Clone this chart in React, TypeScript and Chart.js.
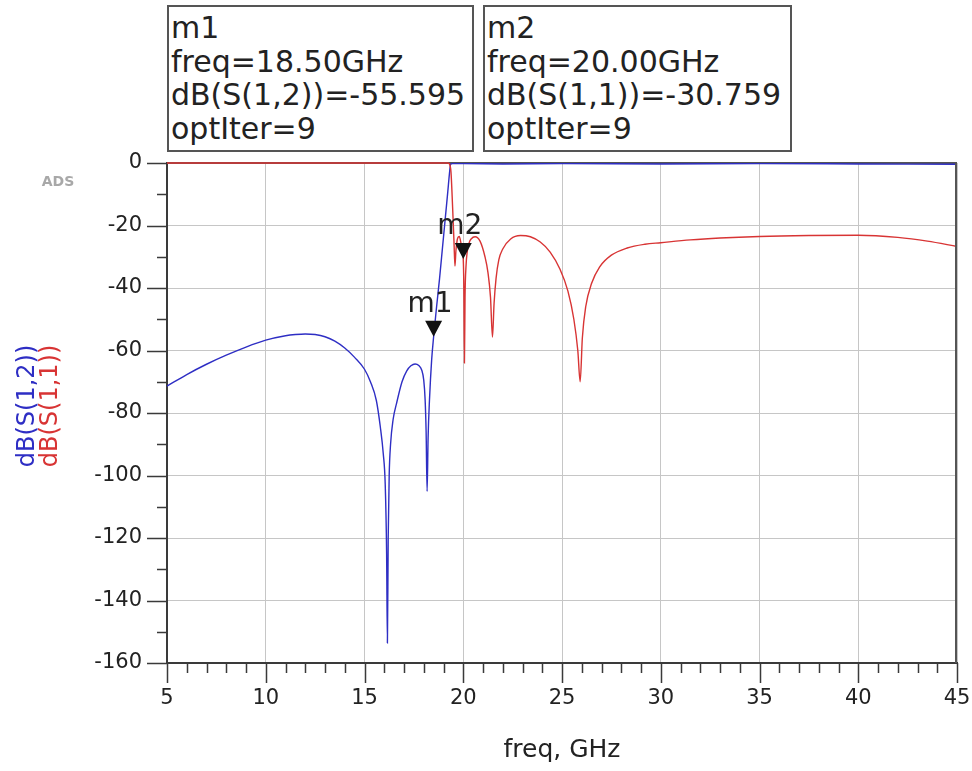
import React, { useEffect, useRef } from 'react';
import { Chart, registerables } from 'chart.js';

Chart.register(...registerables);

// ---- data ----
const S12_FREQ = [5, 6, 7, 8, 9, 10, 11, 11.5, 12, 12.5, 13, 13.5, 14, 14.5, 15, 15.3, 15.6, 15.8, 15.95, 16.05, 16.12, 16.16, 16.2, 16.25, 16.32, 16.45, 16.62, 16.9, 17.14, 17.35, 17.56, 17.75, 17.9, 18.0, 18.07, 18.12, 18.17, 18.22, 18.29, 18.4, 18.5, 18.65, 18.8, 18.95, 19.1, 19.22, 19.3, 19.36, 19.45, 20, 22, 25, 30, 35, 40, 45];
const S12_DB = [-71.4, -67.7, -64.4, -61.5, -58.9, -56.7, -55.3, -54.9, -54.7, -54.9, -55.6, -57, -59.2, -62.2, -66, -70, -76, -84.4, -93, -103, -125, -153.6, -120, -100, -90, -82, -77, -70, -66.5, -64.9, -64.3, -64.8, -66.3, -69.5, -75.8, -86, -105.1, -88, -75.8, -63, -55.6, -46, -37, -27, -17, -9, -3.5, -0.4, -0.2, -0.2, -0.3, -0.2, -0.3, -0.2, -0.3, -0.4];

const S11_FREQ = [5, 10, 15, 19.2, 19.3, 19.38, 19.46, 19.53, 19.58, 19.63, 19.72, 19.8, 19.88, 19.96, 20.0, 20.03, 20.06, 20.09, 20.14, 20.2, 20.3, 20.4, 20.6, 20.85, 21.1, 21.25, 21.38, 21.48, 21.56, 21.66, 21.8, 22.0, 22.4, 22.9, 23.4, 23.9, 24.4, 24.9, 25.3, 25.6, 25.8, 25.92, 26.03, 26.2, 26.5, 26.9, 27.5, 28.3, 29.2, 30, 31.5, 33, 35, 37.5, 40, 42, 43.5, 45];
const S11_DB = [0, 0, 0, 0, -0.3, -3, -14, -25, -33, -28, -24, -23.5, -25.5, -29, -30.759, -40, -64, -43, -33, -28.5, -25.5, -24.3, -23.6, -25, -30, -35, -43, -55.7, -45, -37, -31, -27.5, -24.3, -23.2, -23.6, -25.3, -28.5, -34, -41, -50, -60, -70, -56, -46, -38.5, -33.3, -29.5, -27.2, -26, -25.5, -24.6, -24, -23.5, -23.2, -23.1, -23.8, -25, -26.7];

const X_MIN = 5;
const X_MAX = 45;
const X_MAJOR = 5;
const X_MINOR = 1;
const Y_MIN = -160;
const Y_MAX = 0;
const Y_MAJOR = 20;
const Y_MINOR = 10;

const MARKER_NAMES = ['m1', 'm2'];
const MARKER_FREQ = [18.5, 20.0];
const MARKER_VALUE = [-55.595, -30.759];
const MARKER_TRACE = ['dB(S(1,2))', 'dB(S(1,1))'];
const MARKER_ITER = [9, 9];

const X_TITLE = 'freq, GHz';
const Y_TITLES = ['dB(S(1,2))', 'dB(S(1,1))'];

// ---- styles ----
const FONT = '"DejaVu Sans", "Liberation Sans", Arial, sans-serif';
const BLUE = '#2e2ec4';
const RED = '#d83434';
const TEXT = '#222';
const BOX_POS = [
  { left: 167, width: 307 },
  { left: 483, width: 309 },
];

const decor = {
  id: 'decor',
  beforeDatasetsDraw(chart: any) {
    const { ctx } = chart;
    const xs = chart.scales.x;
    const ys = chart.scales.y;
    const l = xs.getPixelForValue(X_MIN);
    const r = xs.getPixelForValue(X_MAX);
    const t = ys.getPixelForValue(Y_MAX);
    ctx.save();
    ctx.strokeStyle = '#555';
    ctx.lineWidth = 2;
    ctx.beginPath();
    ctx.moveTo(l, t);
    ctx.lineTo(r, t);
    ctx.stroke();
    ctx.restore();
  },
  afterDatasetsDraw(chart: any) {
    const { ctx } = chart;
    const xs = chart.scales.x;
    const ys = chart.scales.y;
    ctx.save();
    MARKER_NAMES.forEach((name, i) => {
      const px = xs.getPixelForValue(MARKER_FREQ[i]);
      const py = ys.getPixelForValue(MARKER_VALUE[i]);
      ctx.fillStyle = '#111';
      ctx.beginPath();
      ctx.moveTo(px - 8.5, py - 16);
      ctx.lineTo(px + 8.5, py - 16);
      ctx.lineTo(px, py);
      ctx.closePath();
      ctx.fill();
      ctx.fillStyle = TEXT;
      ctx.font = `28px ${FONT}`;
      ctx.textAlign = 'center';
      ctx.textBaseline = 'alphabetic';
      ctx.fillText(name, px - 3.5, py - 25);
    });
    ctx.restore();
  },
  afterDraw(chart: any) {
    const { ctx, chartArea: a } = chart;
    const xs = chart.scales.x;
    const ys = chart.scales.y;
    const r = xs.getPixelForValue(X_MAX);
    const t = ys.getPixelForValue(Y_MAX);
    const b = ys.getPixelForValue(Y_MIN);
    ctx.save();
    // right frame edge
    ctx.fillStyle = '#555';
    ctx.fillRect(Math.round(r) - 2, t, 2, b - t);

    ctx.strokeStyle = '#3a3a3a';
    ctx.lineWidth = 1.5;
    ctx.beginPath();
    for (let v = X_MIN; v <= X_MAX + 1e-9; v += X_MINOR) {
      const px = Math.round(xs.getPixelForValue(v)) + 0.5;
      const len = Math.abs(v % X_MAJOR) < 1e-9 ? 20 : 10;
      ctx.moveTo(px, a.bottom);
      ctx.lineTo(px, a.bottom + len);
    }
    for (let v = Y_MIN; v <= Y_MAX + 1e-9; v += Y_MINOR) {
      const py = Math.round(ys.getPixelForValue(v)) + 0.5;
      const len = Math.abs(v % Y_MAJOR) < 1e-9 ? 20 : 10;
      ctx.moveTo(a.left - len, py);
      ctx.lineTo(a.left, py);
    }
    ctx.stroke();

    // x title
    ctx.fillStyle = TEXT;
    ctx.font = `25px ${FONT}`;
    ctx.textAlign = 'center';
    ctx.textBaseline = 'middle';
    ctx.fillText(X_TITLE, (a.left + a.right) / 2, 750);

    // y titles
    const cols = [BLUE, RED];
    const xPos = [27.5, 51];
    Y_TITLES.forEach((txt, i) => {
      ctx.save();
      ctx.translate(xPos[i], 406);
      ctx.rotate(-Math.PI / 2);
      ctx.fillStyle = cols[i];
      ctx.font = `24px ${FONT}`;
      ctx.textAlign = 'center';
      ctx.textBaseline = 'middle';
      ctx.fillText(txt, 0, 0);
      ctx.restore();
    });

    // ADS tag
    ctx.fillStyle = '#a8a8a8';
    ctx.font = `bold 14px ${FONT}`;
    ctx.textAlign = 'center';
    ctx.textBaseline = 'middle';
    ctx.fillText('ADS', 58, 182);
    ctx.restore();
  },
};

export default function App() {
  const ref = useRef<HTMLCanvasElement | null>(null);

  useEffect(() => {
    if (!ref.current) return;
    const chart = new Chart(ref.current, {
      type: 'line',
      data: {
        datasets: [
          {
            label: 'dB(S(1,1))',
            data: S11_FREQ.map((f, i) => ({ x: f, y: S11_DB[i] })),
            borderColor: RED,
            borderWidth: 1.4,
            pointRadius: 0,
            cubicInterpolationMode: 'monotone',
            clip: false as any,
          },
          {
            label: 'dB(S(1,2))',
            data: S12_FREQ.map((f, i) => ({ x: f, y: S12_DB[i] })),
            borderColor: BLUE,
            borderWidth: 1.4,
            pointRadius: 0,
            cubicInterpolationMode: 'monotone',
            clip: false as any,
          },
        ],
      },
      options: {
        animation: false,
        responsive: false,
        events: [],
        layout: { padding: { top: 163, right: 15, left: 0, bottom: 0 } },
        plugins: { legend: { display: false }, tooltip: { enabled: false } },
        scales: {
          x: {
            type: 'linear',
            min: X_MIN,
            max: X_MAX,
            afterFit: (s: any) => {
              s.height = 108;
              s.paddingLeft = 0;
              s.paddingRight = 0;
            },
            ticks: {
              stepSize: X_MAJOR,
              padding: 23,
              color: TEXT,
              font: { family: FONT, size: 21 },
              maxRotation: 0,
              autoSkip: false,
            },
            grid: { color: '#c6c6c6', lineWidth: 1, drawTicks: false },
            border: { color: '#3a3a3a', width: 2 },
          },
          y: {
            type: 'linear',
            min: Y_MIN,
            max: Y_MAX,
            afterFit: (s: any) => {
              s.width = 167;
              s.paddingTop = 0;
              s.paddingBottom = 0;
            },
            ticks: {
              stepSize: Y_MAJOR,
              padding: 25,
              color: TEXT,
              font: { family: FONT, size: 21 },
            },
            grid: { color: '#c6c6c6', lineWidth: 1, drawTicks: false },
            border: { color: '#3a3a3a', width: 2 },
          },
        },
      },
      plugins: [decor],
    } as any);
    return () => chart.destroy();
  }, []);

  return (
    <div style={{ position: 'absolute', left: 0, top: 0, width: 972, height: 771, background: '#fff' }}>
      <canvas ref={ref} width={972} height={771} style={{ position: 'absolute', left: 0, top: 0 }} />
      {MARKER_NAMES.map((name, i) => (
        <div
          key={name}
          style={{
            position: 'absolute',
            left: BOX_POS[i].left,
            top: 5,
            width: BOX_POS[i].width,
            height: 147,
            boxSizing: 'border-box',
            border: '2px solid #555',
            background: '#fff',
            padding: '4px 0 0 2px',
            fontFamily: FONT,
            fontSize: 30,
            lineHeight: '33.5px',
            color: TEXT,
            whiteSpace: 'nowrap',
            overflow: 'hidden',
          }}
        >
          <div>{name}</div>
          <div>{`freq=${MARKER_FREQ[i].toFixed(2)}GHz`}</div>
          <div>{`${MARKER_TRACE[i]}=${MARKER_VALUE[i].toFixed(3)}`}</div>
          <div>{`optIter=${MARKER_ITER[i]}`}</div>
        </div>
      ))}
    </div>
  );
}
